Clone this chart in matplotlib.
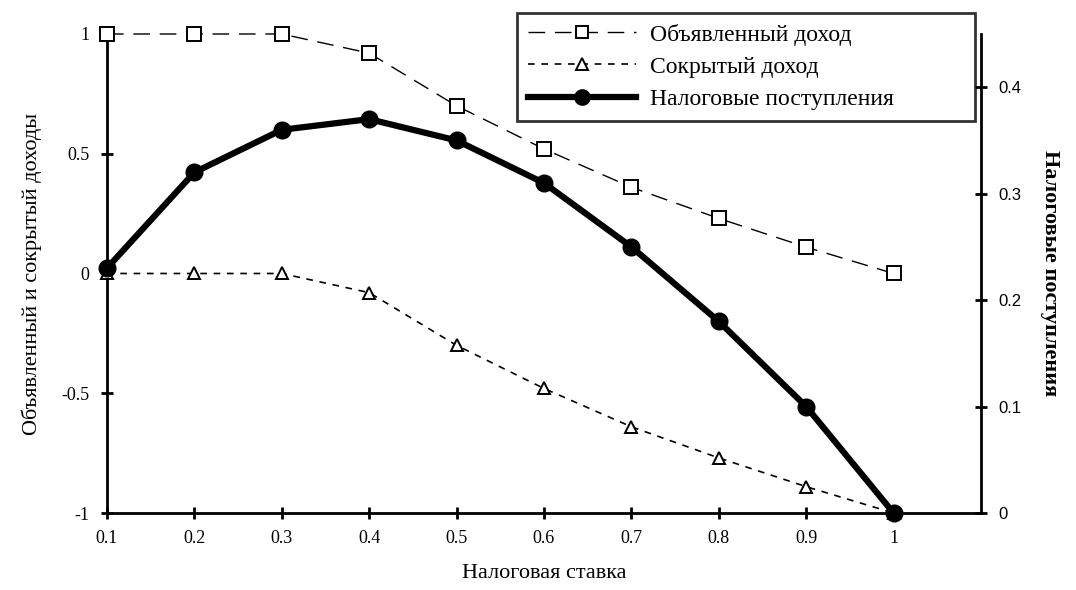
import matplotlib
matplotlib.use("Agg")
import matplotlib.pyplot as plt
from matplotlib.lines import Line2D

# налоговые ставки
rates = [0.1, 0.2, 0.3, 0.4, 0.5, 0.6, 0.7, 0.8, 0.9, 1.0]
rate_labels = ["0.1", "0.2", "0.3", "0.4", "0.5", "0.6", "0.7", "0.8", "0.9", "1"]
declared = [1.0, 1.0, 1.0, 0.92, 0.70, 0.52, 0.36, 0.23, 0.11, 0.0]
hidden = [0.0, 0.0, 0.0, -0.08, -0.30, -0.48, -0.64, -0.77, -0.89, -1.0]
revenue = [0.23, 0.32, 0.36, 0.37, 0.35, 0.31, 0.25, 0.18, 0.10, 0.0]

left_ticks = [-1, -0.5, 0, 0.5, 1]
left_labels = ["-1", "-0.5", "0", "0.5", "1"]
right_ticks = [0, 0.1, 0.2, 0.3, 0.4]
right_labels = ["0", "0.1", "0.2", "0.3", "0.4"]

serif = "Liberation Serif"
sans = "Liberation Sans"

fig = plt.figure(figsize=(10.76, 5.9), dpi=100)
ax = fig.add_axes([0.0994, 0.1305, 0.8123, 0.8119])
ax2 = ax.twinx()

ax.plot(rates, declared, color="black", lw=1.0, dashes=(12, 7),
        marker="s", ms=10, mfc="white", mec="black", mew=1.4,
        clip_on=False, zorder=5)
ax.plot(rates, hidden, color="black", lw=1.2, dashes=(4, 4),
        marker="^", ms=9, mfc="white", mec="black", mew=1.4,
        clip_on=False, zorder=5)
ax2.plot(rates, revenue, color="black", lw=4.5,
         marker="o", ms=12, mfc="black", mec="black",
         clip_on=False, zorder=6)

ax.set_xlim(0.1, 1.1)
ax.set_ylim(-1, 1)
ax2.set_ylim(0, 0.45)

ax.set_xticks(rates)
ax.set_xticklabels(rate_labels, fontfamily=serif, fontsize=13)
ax.set_yticks(left_ticks)
ax.set_yticklabels(left_labels, fontfamily=serif, fontsize=13)
ax2.set_yticks(right_ticks)
ax2.set_yticklabels(right_labels, fontfamily=sans, fontsize=12)

for a in (ax, ax2):
    for s in a.spines.values():
        s.set_linewidth(2)
    a.spines["top"].set_visible(False)
    a.tick_params(direction="inout", length=9, width=2, pad=8)
ax.spines["right"].set_visible(False)
ax2.spines["left"].set_visible(False)
ax2.spines["bottom"].set_visible(False)

ax.set_xlabel("Налоговая ставка", fontfamily=serif, fontsize=16, labelpad=12)
ax.set_ylabel("Объявленный и сокрытый доходы", fontfamily=serif, fontsize=16,
              labelpad=14)
ax2.set_ylabel("Налоговые поступления", fontfamily=serif, fontsize=16,
               fontweight="bold", rotation=-90, labelpad=28)

# легенда в рамке вверху справа
h1 = Line2D([], [], color="black", lw=1.0, dashes=(12, 7), marker="s", ms=9,
            mfc="white", mec="black", mew=1.4)
h2 = Line2D([], [], color="black", lw=1.2, dashes=(4, 4), marker="^", ms=9,
            mfc="white", mec="black", mew=1.4)
h3 = Line2D([], [], color="black", lw=4.5, marker="o", ms=11, mfc="black")
leg = fig.legend([h1, h2, h3],
                 ["Объявленный доход", "Сокрытый доход", "Налоговые поступления"],
                 loc="upper left", mode="expand",
                 bbox_to_anchor=(0.4805, 0.8034, 0.4257, 0.1746),
                 prop={"family": serif, "size": 17}, frameon=True,
                 fancybox=False, edgecolor="black", handlelength=4.6,
                 handletextpad=0.6, borderpad=0.45, labelspacing=0.45,
                 borderaxespad=0)
leg.get_frame().set_linewidth(2)
leg.get_frame().set_facecolor("white")
leg.set_zorder(10)

fig.savefig("out.png", dpi=100)
